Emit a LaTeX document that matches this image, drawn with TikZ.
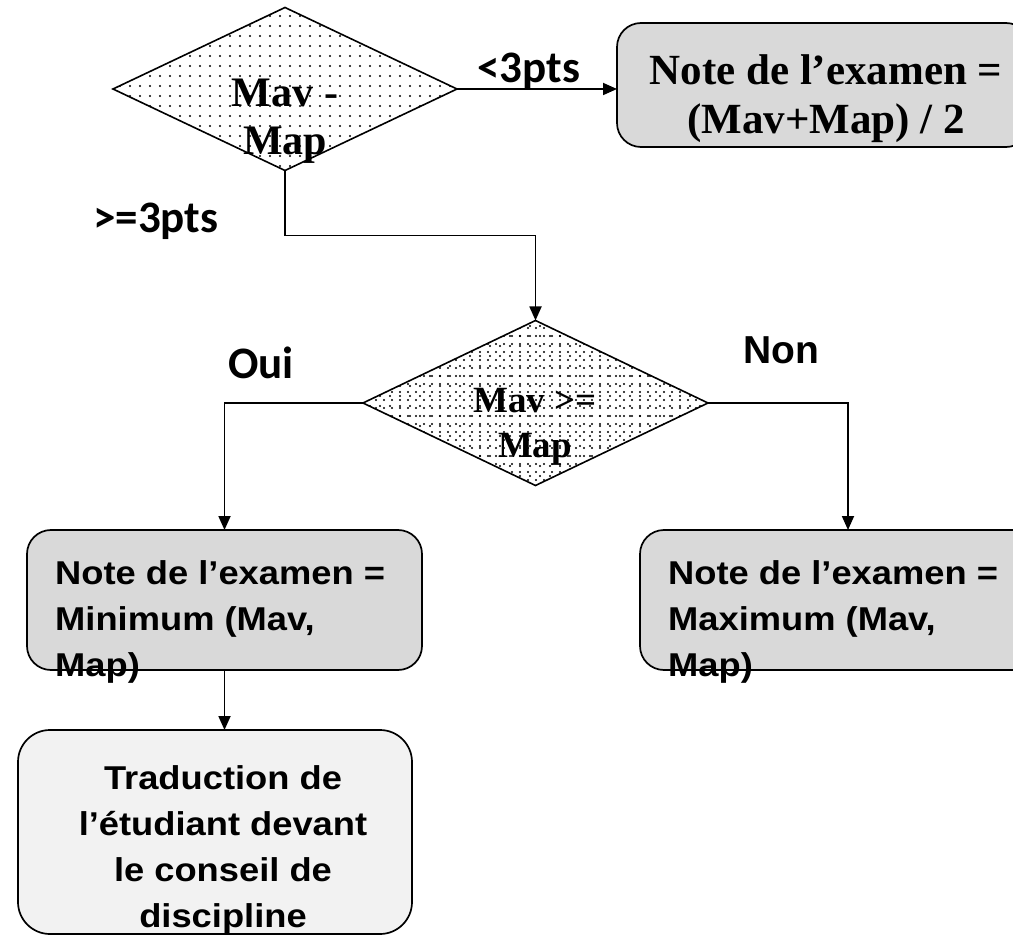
\documentclass[tikz,border=0pt]{standalone}
\usepackage{fontspec}
\newfontfamily\sanslarge{Liberation Sans}[FakeStretch=1.1]
\newfontfamily\sansnormal{Liberation Sans}
\newfontfamily\serifnote{Liberation Serif}
\newfontfamily\calibri{Carlito}
\usetikzlibrary{positioning,arrows.meta,shapes.geometric,patterns.meta,calc}

\definecolor{grisnote}{RGB}{217,217,217}
\definecolor{grisclair}{RGB}{242,242,242}

\begin{document}
\begin{tikzpicture}[
    x=1pt, y=-1pt,
    decision/.style={
        diamond, draw=black, line width=1.6pt, inner sep=0pt, outer sep=0pt,
        fill=white, postaction={pattern={Dots[radius=1.2pt,distance=10pt]}}},
    finedots/.style={postaction={pattern={Dots[radius=1.1pt,distance=8pt]}}},
    resultat/.style={
        rectangle, rounded corners=24pt, draw=black, line width=1.7pt,
        fill=grisnote, inner sep=0pt, outer sep=0pt},
    fleche/.style={-{Triangle[length=14pt,width=12pt]}, line width=1.8pt},
    cond/.style={font=\calibri\bfseries\fontsize{45}{50}\selectfont,
        inner sep=0pt, anchor=base west},
    txtserif/.style={font=\serifnote\bfseries, align=center, inner sep=0pt, anchor=north},
    txtsans/.style={font=\sanslarge\bfseries\fontsize{33}{46}\selectfont, inner sep=0pt},
]

% ---- page ----
\fill[white] (0,0) rectangle (1013,936);
\useasboundingbox (0,0) rectangle (1013,936);

% ---- shapes ----
\node[decision, minimum width=344pt, minimum height=163pt] (ecart) at (285,89) {};
\node[resultat, minimum width=413pt, minimum height=124pt] (moyenne) at (823.5,85) {};
\node[decision, finedots, minimum width=345pt, minimum height=165pt] (ordre) at (535.5,403) {};
\node[resultat, minimum width=395pt, minimum height=140pt] (minimum) at (224.5,600) {};
\node[resultat, minimum width=416pt, minimum height=140pt] (maximum) at (848,600) {};
\node[resultat, fill=grisclair, rounded corners=32pt,
      minimum width=394pt, minimum height=204pt] (traduction) at (215,832) {};

% ---- texts ----
\node[txtserif, font=\serifnote\bfseries\fontsize{42}{48}\selectfont] (ecart-txt) at (285,79) {Mav -\\Map};
\node[txtserif, font=\serifnote\bfseries\fontsize{43}{49}\selectfont] (moyenne-txt) at (826,54) {Note de l’examen =\\(Mav+Map) / 2};
\node[txtserif, font=\serifnote\bfseries\fontsize{37}{45}\selectfont] (ordre-txt) at (535,388) {Mav >=\\Map};
\node[txtsans, align=left, anchor=north west] (minimum-txt) at (55,560) {Note de l’examen =\\Minimum (Mav,\\Map)};
\node[txtsans, align=left, anchor=north west] (maximum-txt) at (668,560) {Note de l’examen =\\Maximum (Mav,\\Map)};
\node[txtsans, align=center, anchor=north] (traduction-txt) at (223,765) {Traduction de\\l’étudiant devant\\le conseil de\\discipline};

% ---- conditions ----
\node[cond] (inf3) at (477,83) {<3pts};
\node[cond] (sup3) at (93,233) {>=3pts};
\node[cond] (oui) at (228,378) {Oui};
\node[font=\sansnormal\bfseries\fontsize{39}{45}\selectfont, inner sep=0pt, anchor=base west] (non) at (743,363) {Non};

% ---- links ----
\draw[fleche] (ecart.east) -- (ecart.east -| moyenne.west);
\draw[fleche] (ecart.south) -- ++(0,65) -| (ordre.north);
\draw[fleche] (ordre.west) -| (minimum.north);
\draw[fleche] (ordre.east) -| (maximum.north);
\draw[fleche] (minimum.south) -- (traduction.north -| minimum.south);

\end{tikzpicture}
\end{document}
